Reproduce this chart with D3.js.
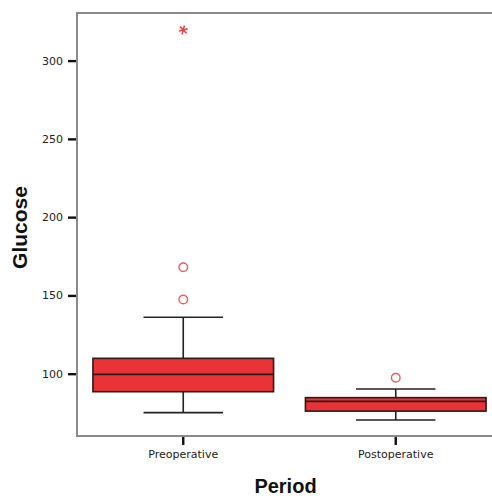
<!DOCTYPE html>
<html>
<head>
<meta charset="utf-8">
<script src="https://cdn.jsdelivr.net/npm/d3@7"></script>
<style>
  html, body { margin: 0; padding: 0; background: #fff; overflow: hidden; }
  svg { display: block; }
</style>
</head>
<body>
<svg id="chart" width="492" height="498"></svg>
<script>
// values
const periods = ["Preoperative", "Postoperative"];
const q1 = [88.5, 76.1];
const median = [99.6, 82.3];
const q3 = [109.8, 84.7];
const whiskerLow = [75.1, 70.4];
const whiskerHigh = [136.1, 90.2];
const outliers = [[168, 147.4], [97.4]];
const extremes = [[319.6], []];
const yTicks = [100, 150, 200, 250, 300];

const plotLeft = 77, plotTop = 13, plotBottom = 436, plotRight = 502;

const svg = d3.select("#chart");

const x = d3.scaleBand(periods, [plotLeft, plotRight]).paddingInner(0.15).paddingOuter(0.075);
const y = d3.scaleLinear([60.2, 330.4], [plotBottom, plotTop]);

const boxes = periods.map((p, i) => ({
  p, q1: q1[i], med: median[i], q3: q3[i], lo: whiskerLow[i], hi: whiskerHigh[i],
  out: outliers[i], ext: extremes[i]
}));

// frame
svg.append("path")
   .attr("d", `M${plotRight + 20},${plotTop} H${plotLeft} V${plotBottom} H${plotRight + 20}`)
   .attr("fill", "none")
   .attr("stroke", "#8a8a8a")
   .attr("stroke-width", 2);

// axes
const yAxis = svg.append("g")
   .attr("transform", `translate(${plotLeft - 1},0)`)
   .call(d3.axisLeft(y).tickValues(yTicks).tickSize(8).tickPadding(5));
const xAxis = svg.append("g")
   .attr("transform", `translate(0,${plotBottom + 1})`)
   .call(d3.axisBottom(x).tickSize(8).tickPadding(5));

[yAxis, xAxis].forEach(a => {
  a.select(".domain").remove();
  a.selectAll(".tick line").attr("stroke", "#111").attr("stroke-width", 2.4);
  a.selectAll(".tick text")
   .attr("fill", "#222")
   .style("font-family", "'DejaVu Sans', sans-serif")
   .style("font-size", "11px");
});

const half = x.bandwidth() / 2;
const cap = x.bandwidth() * 0.22;

const g = svg.selectAll(".box").data(boxes).enter().append("g").attr("class", "box");

// whiskers
g.append("line")
 .attr("x1", d => x(d.p) + half).attr("x2", d => x(d.p) + half)
 .attr("y1", d => y(d.hi)).attr("y2", d => y(d.q3))
 .attr("stroke", "#222").attr("stroke-width", 1.6);
g.append("line")
 .attr("x1", d => x(d.p) + half).attr("x2", d => x(d.p) + half)
 .attr("y1", d => y(d.q1)).attr("y2", d => y(d.lo))
 .attr("stroke", "#222").attr("stroke-width", 1.6);
g.append("line")
 .attr("x1", d => x(d.p) + half - cap).attr("x2", d => x(d.p) + half + cap)
 .attr("y1", d => y(d.hi)).attr("y2", d => y(d.hi))
 .attr("stroke", "#222").attr("stroke-width", 1.6);
g.append("line")
 .attr("x1", d => x(d.p) + half - cap).attr("x2", d => x(d.p) + half + cap)
 .attr("y1", d => y(d.lo)).attr("y2", d => y(d.lo))
 .attr("stroke", "#222").attr("stroke-width", 1.6);

// box
g.append("rect")
 .attr("x", d => x(d.p))
 .attr("width", x.bandwidth())
 .attr("y", d => y(d.q3))
 .attr("height", d => y(d.q1) - y(d.q3))
 .attr("fill", "#ea3337")
 .attr("stroke", "#2b1a1a")
 .attr("stroke-width", 1.6);
g.append("line")
 .attr("x1", d => x(d.p)).attr("x2", d => x(d.p) + x.bandwidth())
 .attr("y1", d => y(d.med)).attr("y2", d => y(d.med))
 .attr("stroke", "#2b1a1a").attr("stroke-width", 1.8);

// outliers
g.selectAll(".out").data(d => d.out.map(v => ({p: d.p, v}))).enter()
 .append("circle")
 .attr("cx", d => x(d.p) + half)
 .attr("cy", d => y(d.v))
 .attr("r", 4.3)
 .attr("fill", "none")
 .attr("stroke", "#f05a5a")
 .attr("stroke-width", 1.4);

// extremes
g.selectAll(".ext").data(d => d.ext.map(v => ({p: d.p, v}))).enter()
 .append("path")
 .attr("transform", d => `translate(${x(d.p) + half},${y(d.v)}) rotate(15)`)
 .attr("d", d3.symbol(d3.symbolAsterisk, 60))
 .attr("fill", "none")
 .attr("stroke", "#f03a3a")
 .attr("stroke-width", 1.5);

// axis titles
svg.append("text")
   .attr("transform", `translate(27,${(plotTop + plotBottom) / 2 + 3}) rotate(-90)`)
   .attr("text-anchor", "middle")
   .style("font-family", "'Liberation Sans', Arial, sans-serif")
   .style("font-weight", "bold")
   .style("font-size", "21px")
   .attr("fill", "#111")
   .text("Glucose");

svg.append("text")
   .attr("x", (plotLeft + plotRight) / 2 - 4)
   .attr("y", 493)
   .attr("text-anchor", "middle")
   .style("font-family", "'Liberation Sans', Arial, sans-serif")
   .style("font-weight", "bold")
   .style("font-size", "20px")
   .attr("fill", "#111")
   .text("Period");
</script>
</body>
</html>
